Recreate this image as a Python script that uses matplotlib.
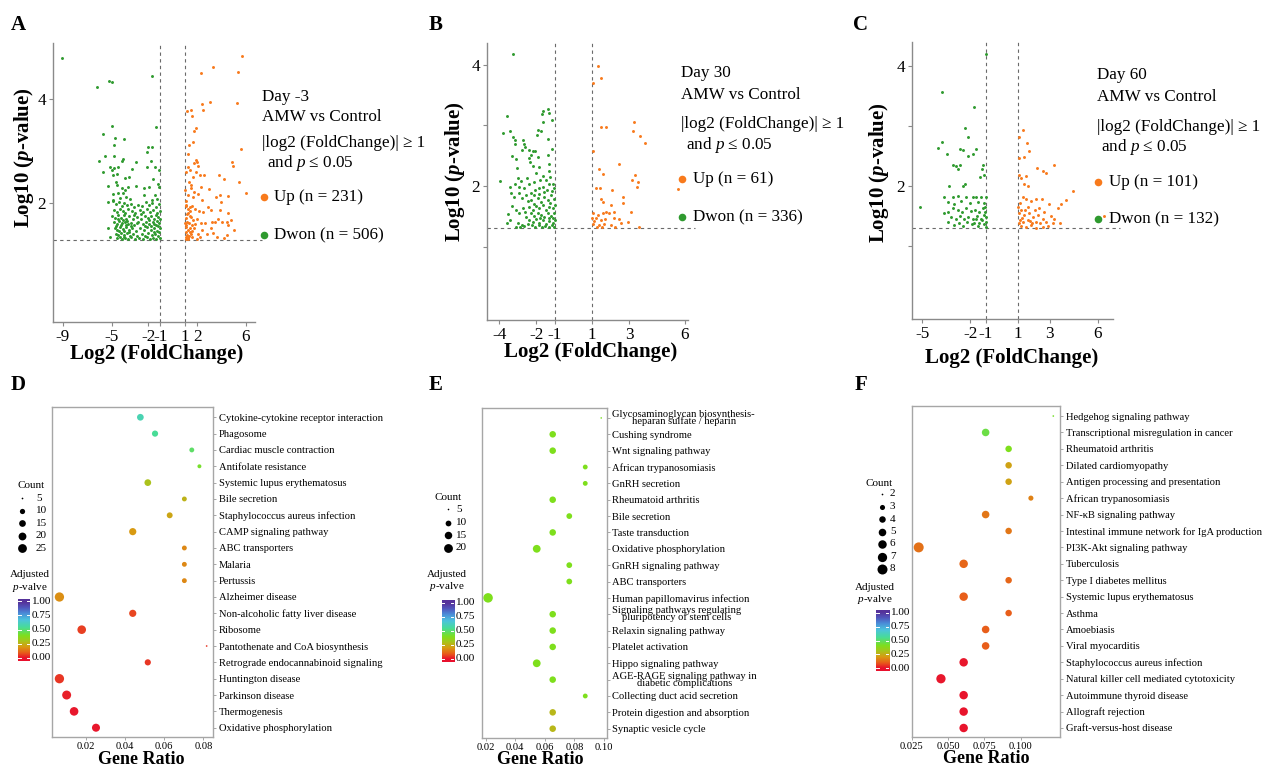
import numpy as np
import matplotlib
matplotlib.use("Agg")
import matplotlib.pyplot as plt
from matplotlib.colors import LinearSegmentedColormap

plt.rcParams['font.family'] = ['Liberation Serif', 'DejaVu Serif']
plt.rcParams['mathtext.fontset'] = 'custom'
plt.rcParams['mathtext.rm'] = 'Liberation Serif'
plt.rcParams['mathtext.it'] = 'Liberation Serif:italic:bold'
plt.rcParams['mathtext.bf'] = 'Liberation Serif:bold'
plt.rcParams['mathtext.sf'] = 'Liberation Serif:italic'

# ---------------------------------------------------------------- data
FC_CUT = 1
P_CUT = -np.log10(0.05)

# Panel A: Day -3  (log2FC, -log10 p)
a_down = [(-9.03,4.78),(-6.16,4.22),(-5.18,4.35),(-4.99,4.32),(-1.68,4.44),(-1.38,3.46),(-4.93,3.49),
 (-5.67,3.33),(-4.74,3.26),(-4.00,3.23),(-4.82,3.11),(-2.01,3.08),(-1.68,3.07),(-2.12,2.98),(-4.77,2.90),
 (-5.53,2.90),(-6.05,2.82),(-4.06,2.85),(-4.11,2.82),(-3.02,2.80),(-1.76,2.82),(-5.10,2.70),(-4.77,2.68),
 (-4.44,2.70),(-3.32,2.66),(-2.12,2.70),(-1.43,2.70),(-5.67,2.61),(-4.99,2.63),(-1.08,2.63),(-4.52,2.56),
 (-4.85,2.54),(-3.87,2.48),(-3.54,2.51),(-1.63,2.47),(-5.26,2.34),(-4.68,2.41),(-4.55,2.35),(-2.99,2.34),
 (-2.31,2.30),(-1.90,2.31),(-1.22,2.38),(-1.08,2.32),(-4.17,2.29),(-3.89,2.25),(-3.62,2.32),(-4.85,2.18),
 (-4.44,2.19),(-4.03,2.20),(-2.31,2.16),(-1.43,2.16),(-5.26,2.02),(-4.85,2.06),(-4.30,2.10),(-3.84,2.13),
 (-3.48,2.08),(-1.71,2.06),(-1.30,2.09),
 (-4.88,2.05),(-4.62,1.98),(-4.41,2.03),(-4.18,1.95),(-3.97,2.01),(-3.71,1.96),(-3.45,1.99),(-3.18,1.93),
 (-2.86,1.97),(-2.48,1.95),(-2.21,2.02),(-1.95,1.96),(-1.66,2.00),(-1.39,1.94),(-1.12,1.99),
 (-4.79,1.88),(-4.55,1.84),(-4.33,1.90),(-4.09,1.86),(-3.88,1.82),(-3.62,1.89),(-3.36,1.85),(-3.05,1.81),
 (-2.71,1.87),(-2.39,1.83),(-2.12,1.89),(-1.84,1.84),(-1.58,1.88),(-1.31,1.82),(-1.06,1.86),
 (-4.93,1.76),(-4.71,1.72),(-4.47,1.78),(-4.26,1.73),(-4.02,1.77),(-3.79,1.71),(-3.55,1.75),(-3.27,1.70),
 (-2.95,1.74),(-2.58,1.71),(-2.29,1.76),(-2.03,1.72),(-1.77,1.75),(-1.49,1.70),(-1.21,1.74),(-1.03,1.71),
 (-4.84,1.64),(-4.60,1.61),(-4.38,1.66),(-4.14,1.62),(-3.92,1.65),(-3.68,1.60),(-3.42,1.63),(-3.13,1.59),
 (-2.80,1.64),(-2.45,1.60),(-2.17,1.65),(-1.91,1.61),(-1.63,1.64),(-1.36,1.59),(-1.09,1.63),
 (-4.75,1.53),(-4.52,1.50),(-4.29,1.55),(-4.06,1.51),(-3.83,1.54),(-3.58,1.49),(-3.31,1.52),(-3.01,1.48),
 (-2.66,1.53),(-2.35,1.49),(-2.08,1.54),(-1.81,1.50),(-1.54,1.53),(-1.27,1.48),(-1.02,1.52),
 (-4.68,1.42),(-4.45,1.39),(-4.21,1.44),(-3.99,1.40),(-3.76,1.43),(-3.50,1.38),(-3.22,1.41),(-2.90,1.37),
 (-2.55,1.42),(-2.26,1.38),(-1.99,1.43),(-1.72,1.39),(-1.45,1.42),(-1.18,1.37),
 (-4.58,1.33),(-4.35,1.35),(-4.12,1.32),(-3.89,1.34),(-3.64,1.31),(-3.39,1.35),(-3.08,1.32),(-2.76,1.34),
 (-2.40,1.31),(-2.13,1.35),(-1.87,1.32),(-1.60,1.34),(-1.33,1.31),(-1.07,1.33),
 (-4.50,1.70),(-4.20,1.58),(-3.95,1.47),(-3.70,1.67),(-3.40,1.57),(-4.65,1.57),(-4.05,1.69),(-3.85,1.58),
 (-1.50,1.60),(-1.25,1.67),(-1.75,1.56),(-1.15,1.45),(-1.40,1.77),(-1.95,1.68),(-2.25,1.57),(-4.40,1.47),
 (-3.60,1.45),(-4.00,1.36),(-1.55,1.46),(-1.22,1.57),(-5.12,1.35),(-5.30,1.52),(-2.62,1.80),(-2.95,1.62),
 (-3.15,1.77)]
a_up = [(5.70,4.83),(3.29,4.62),(5.31,4.52),(2.28,4.49),(3.07,3.95),(5.29,3.93),(2.42,3.90),(2.47,3.79),
 (1.49,3.78),(1.16,3.77),(1.57,3.67),(1.90,3.44),(1.73,3.39),(1.63,3.18),(1.32,3.11),(5.59,3.04),(1.27,2.94),
 (1.87,2.84),(2.01,2.80),(1.76,2.78),(4.88,2.80),(4.93,2.71),(1.22,2.70),(1.41,2.64),(1.13,2.61),(2.04,2.71),
 (1.87,2.61),(2.20,2.54),(2.53,2.54),(3.78,2.55),(4.22,2.47),(1.65,2.51),(1.32,2.41),(1.54,2.35),(5.40,2.41),
 (2.31,2.32),(1.76,2.22),(1.49,2.29),(2.94,2.27),(6.02,2.19),(3.84,2.17),(4.55,2.15),(3.54,2.12),(1.27,2.16),
 (1.68,2.13),(2.09,2.18),(2.42,2.06),(3.95,2.02),(2.91,1.94),(3.13,1.87),(1.13,1.97),(1.41,1.94),(1.82,1.90),
 (2.15,1.86),(2.50,1.84),(3.84,1.87),(4.55,1.81),(3.73,1.71),(4.74,1.69),(3.18,1.65),(3.46,1.65),(4.06,1.65),
 (4.41,1.65),(4.49,1.58),(1.22,1.81),(1.54,1.74),(1.95,1.71),(2.28,1.63),(2.64,1.62),(3.16,1.52),(5.04,1.49),
 (1.13,1.55),(1.41,1.46),(1.76,1.52),(2.09,1.42),(2.42,1.49),(2.77,1.42),(3.27,1.43),(4.41,1.39),(3.59,1.36),
 (4.22,1.33),(1.05,1.36),(1.27,1.33),(1.60,1.36),(1.95,1.31),(2.23,1.35),
 (1.05,1.45),(1.15,1.40),(1.25,1.50),(1.10,1.58),(1.20,1.65),(1.30,1.38),(1.40,1.52),(1.08,1.72),(1.18,1.80),
 (1.35,1.62),(1.48,1.42),(1.55,1.58),(1.28,1.90),(1.05,1.95),(1.62,1.47),(1.12,2.05),(1.22,1.32),(1.38,1.75),
 (1.70,1.68),(1.45,1.85),(1.02,1.62),(1.03,2.25),(1.08,1.32),(1.60,1.95),(1.85,1.60)]

# Panel B: Day 30
b_down = [(-3.26,4.18),(-3.60,3.16),(-1.63,3.24),(-1.40,3.27),(-1.34,3.21),(-1.72,3.19),(-1.14,3.09),
 (-1.67,3.06),(-3.78,2.87),(-3.42,2.91),(-3.28,2.81),(-3.14,2.76),(-3.15,2.69),(-2.74,2.76),(-2.65,2.69),
 (-2.60,2.65),(-2.78,2.59),(-1.93,2.92),(-1.75,2.91),(-1.99,2.84),(-1.36,2.77),(-1.16,2.61),(-3.32,2.49),
 (-3.10,2.44),(-3.06,2.29),(-2.38,2.59),(-2.20,2.57),(-2.06,2.58),(-2.29,2.51),(-1.93,2.48),(-2.42,2.46),
 (-2.35,2.40),(-2.17,2.33),(-1.88,2.31),(-2.02,2.22),(-1.40,2.51),(-1.30,2.36),(-1.34,2.24),(-1.27,2.15),
 (-1.48,2.10),(-1.66,2.16),(-1.81,2.10),(-3.96,2.09),(-3.01,2.13),(-2.83,2.09),(-2.53,2.14),(-3.14,2.04),
 (-3.42,1.99),(-2.92,1.99),(-2.65,1.96),(-2.38,2.04),(-2.11,2.07),(-3.37,1.88),(-3.19,1.82),(-2.96,1.89),
 (-2.78,1.80),(-2.56,1.85),(-2.29,1.89),(-2.06,1.93),(-1.84,1.96),(-1.63,1.99),(-1.30,2.03),(-1.12,2.04),
 (-1.04,1.96),(-3.55,1.54),(-3.41,1.44),(-3.60,1.39),(-3.10,1.60),(-2.92,1.55),(-2.70,1.63),(-3.32,1.67),
 (-2.56,1.49),(-3.01,1.39),(-2.78,1.36),
 (-2.29,1.77),(-2.11,1.71),(-1.93,1.80),(-1.75,1.74),(-1.57,1.82),(-1.40,1.77),(-1.21,1.85),(-1.07,1.78),
 (-2.38,1.66),(-2.20,1.60),(-2.02,1.67),(-1.84,1.63),(-1.66,1.69),(-1.48,1.60),(-1.30,1.66),(-1.12,1.63),
 (-1.02,1.69),(-2.29,1.55),(-2.11,1.50),(-1.93,1.56),(-1.75,1.52),(-1.57,1.49),(-1.40,1.55),(-1.21,1.50),
 (-1.05,1.55),(-2.38,1.44),(-2.20,1.41),(-2.02,1.45),(-1.84,1.39),(-1.66,1.44),(-1.48,1.38),(-1.30,1.43),
 (-1.12,1.39),(-1.02,1.44),(-2.24,1.35),(-2.06,1.33),(-1.88,1.35),(-1.70,1.33),(-1.52,1.34),(-1.34,1.33),
 (-1.16,1.35),(-1.04,1.33),(-3.10,1.33),(-2.90,1.33),(-2.65,1.34),(-2.48,1.38),(-1.60,1.90),(-1.45,1.93),
 (-1.18,1.92),(-1.88,1.87),(-2.45,1.75),(-2.60,1.58),(-1.25,1.72),(-1.80,1.48),(-1.35,1.47),(-1.10,1.48),
 (-2.15,1.85)]
b_up = [(1.30,3.98),(1.46,3.78),(1.03,3.70),(1.50,2.97),(1.75,2.97),(3.24,3.05),(3.18,2.90),(3.60,2.83),
 (3.87,2.71),(1.03,2.58),(2.43,2.36),(1.35,2.28),(1.57,2.20),(3.31,2.18),(3.15,2.10),(3.45,2.07),(3.40,1.99),
 (5.64,1.95),(1.21,1.96),(1.44,1.97),(2.07,1.93),(2.68,1.82),(2.68,1.72),(1.48,1.78),(1.57,1.74),(2.02,1.69),
 (1.06,1.56),(1.30,1.52),(1.60,1.55),(1.75,1.58),(1.89,1.55),(2.18,1.58),(3.09,1.58),(1.21,1.47),(1.48,1.44),
 (1.71,1.45),(2.20,1.47),(2.43,1.45),(2.56,1.39),(2.91,1.41),(1.06,1.38),(1.35,1.35),(1.53,1.33),(2.03,1.35),
 (2.25,1.33),(3.51,1.32),(1.10,1.42),(1.25,1.32),(1.65,1.38),(1.02,1.48)]

# Panel C: Day 60
c_down = [(-1.01,4.19),(-3.79,3.57),(-1.74,3.31),(-2.30,2.96),(-2.16,2.82),(-3.79,2.73),(-3.99,2.63),
 (-3.45,2.54),(-2.63,2.62),(-2.47,2.60),(-1.63,2.62),(-1.82,2.54),(-2.11,2.50),(-3.10,2.35),(-2.89,2.33),
 (-2.64,2.35),(-2.78,2.29),(-1.21,2.35),(-1.28,2.28),(-1.38,2.15),(-1.11,2.18),(-2.32,2.03),(-2.43,2.00),
 (-3.30,2.00),(-5.12,1.66),(-3.62,1.82),(-3.10,1.81),(-2.78,1.83),(-2.26,1.82),(-1.84,1.81),(-1.63,1.82),
 (-1.32,1.82),(-1.01,1.81),(-3.41,1.74),(-2.99,1.71),(-2.57,1.76),(-1.99,1.72),(-1.53,1.74),(-1.15,1.72),
 (-3.66,1.55),(-3.41,1.57),(-3.10,1.63),(-2.78,1.60),(-2.53,1.57),(-2.26,1.63),(-1.95,1.59),(-1.70,1.61),
 (-1.42,1.57),(-1.21,1.63),(-1.07,1.57),(-3.20,1.49),(-2.89,1.46),(-2.61,1.50),(-2.36,1.45),(-2.11,1.49),
 (-1.84,1.46),(-1.57,1.50),(-1.32,1.46),(-1.01,1.48),(-3.41,1.41),(-2.68,1.39),(-2.20,1.41),(-1.74,1.38),
 (-1.42,1.39),(-1.15,1.37),(-1.02,1.41),(-2.99,1.35),(-2.47,1.34),(-1.53,1.34),(-1.01,1.32),(-1.10,1.52),
 (-1.25,1.43),(-1.05,1.65),(-1.60,1.45),(-1.90,1.37)]
c_up = [(1.29,2.94),(1.08,2.81),(1.57,2.71),(1.71,2.59),(1.08,2.46),(1.36,2.49),(2.19,2.30),(2.55,2.25),
 (2.76,2.21),(3.24,2.35),(1.08,2.18),(1.19,2.13),(1.50,2.16),(1.40,2.03),(1.65,2.00),(4.47,1.91),(1.29,1.82),
 (1.50,1.78),(1.82,1.76),(2.13,1.78),(2.49,1.79),(4.01,1.77),(3.70,1.71),(2.96,1.70),(3.49,1.63),(1.02,1.66),
 (1.19,1.60),(1.61,1.66),(2.07,1.60),(2.34,1.63),(2.65,1.57),(1.08,1.55),(1.40,1.52),(1.71,1.55),(1.92,1.49),
 (2.23,1.52),(2.55,1.46),(3.07,1.50),(3.28,1.46),(1.10,1.44),(1.34,1.41),(1.61,1.44),(1.86,1.39),(2.13,1.41),
 (2.40,1.38),(2.76,1.41),(3.17,1.38),(3.66,1.38),(1.19,1.34),(1.50,1.32),(1.82,1.35),(2.13,1.31),(2.55,1.32),
 (2.86,1.34),(6.41,1.50),(1.05,1.38),(1.25,1.47),(1.45,1.60),(1.15,1.72),(1.75,1.42)]

a_xticks = [-9, -5, -2, -1, 1, 2, 6]
b_xticks = [-4, -2, -1, 1, 3, 6]
c_xticks = [-5, -2, -1, 1, 3, 6]
volcano_yticks = [2, 4]
a_info = ["Day -3", "AMW vs Control", "Up (n = 231)", "Dwon (n = 506)"]
b_info = ["Day 30", "AMW vs Control", "Up (n = 61)", "Dwon (n = 336)"]
c_info = ["Day 60", "AMW vs Control", "Up (n = 101)", "Dwon (n = 132)"]

# Panel D: Day -3 KEGG
d_cats = ["Cytokine-cytokine receptor interaction", "Phagosome", "Cardiac muscle contraction",
          "Antifolate resistance", "Systemic lupus erythematosus", "Bile secretion",
          "Staphylococcus aureus infection", "CAMP signaling pathway", "ABC transporters", "Malaria",
          "Pertussis", "Alzheimer disease", "Non-alcoholic fatty liver disease", "Ribosome",
          "Pantothenate and CoA biosynthesis", "Retrograde endocannabinoid signaling",
          "Huntington disease", "Parkinson disease", "Thermogenesis", "Oxidative phosphorylation"]
d_ratio = [0.0478, 0.0553, 0.0741, 0.0780, 0.0516, 0.0703, 0.0628, 0.0439, 0.0703, 0.0703,
           0.0703, 0.0064, 0.0439, 0.0178, 0.0817, 0.0516, 0.0064, 0.0101, 0.0139, 0.0251]
d_count = [15, 13, 9, 7, 15, 9, 12, 17, 9, 9, 9, 28, 17, 24, 5, 13, 28, 26, 24, 21]
d_padj = [0.60, 0.55, 0.49, 0.42, 0.30, 0.26, 0.23, 0.20, 0.17, 0.17,
          0.17, 0.18, 0.07, 0.06, 0.05, 0.05, 0.05, 0.02, 0.01, 0.01]
d_count_breaks = [5, 10, 15, 20, 25]

# Panel E: Day 30 KEGG
e_cats = ["Glycosaminoglycan biosynthesis-\nheparan sulfate / heparin", "Cushing syndrome",
          "Wnt signaling pathway", "African trypanosomiasis", "GnRH secretion", "Rheumatoid arthritis",
          "Bile secretion", "Taste transduction", "Oxidative phosphorylation", "GnRH signaling pathway",
          "ABC transporters", "Human papillomavirus infection",
          "Signaling pathways regulating\npluripotency of stem cells", "Relaxin signaling pathway",
          "Platelet activation", "Hippo signaling pathway",
          "AGE-RAGE signaling pathway in\ndiabetic complications", "Collecting duct acid secretion",
          "Protein digestion and absorption", "Synaptic vesicle cycle"]
e_ratio = [0.0981, 0.0653, 0.0653, 0.0873, 0.0873, 0.0653, 0.0765, 0.0653, 0.0545, 0.0765,
           0.0765, 0.0216, 0.0653, 0.0653, 0.0653, 0.0545, 0.0653, 0.0873, 0.0653, 0.0653]
e_count = [5, 12, 12, 8, 8, 12, 10, 12, 16, 10, 10, 23, 12, 12, 12, 16, 12, 8, 12, 12]
e_padj = [0.41, 0.40, 0.40, 0.40, 0.40, 0.40, 0.40, 0.40, 0.40, 0.40,
          0.40, 0.40, 0.40, 0.40, 0.40, 0.40, 0.40, 0.40, 0.27, 0.27]
e_count_breaks = [5, 10, 15, 20]

# Panel F: Day 60 KEGG
f_cats = ["Hedgehog signaling pathway", "Transcriptional misregulation in cancer", "Rheumatoid arthritis",
          "Dilated cardiomyopathy", "Antigen processing and presentation", "African trypanosomiasis",
          "NF-\u03baB signaling pathway", "Intestinal immune network for IgA production",
          "PI3K-Akt signaling pathway", "Tuberculosis", "Type I diabetes mellitus",
          "Systemic lupus erythematosus", "Asthma", "Amoebiasis", "Viral myocarditis",
          "Staphylococcus aureus infection", "Natural killer cell mediated cytotoxicity",
          "Autoimmune thyroid disease", "Allograft rejection", "Graft-versus-host disease"]
f_ratio = [0.1223, 0.0758, 0.0916, 0.0916, 0.0916, 0.1069, 0.0758, 0.0916, 0.0298, 0.0607,
           0.0916, 0.0607, 0.0916, 0.0758, 0.0758, 0.0607, 0.0451, 0.0607, 0.0607, 0.0607]
f_count = [2, 5, 4, 4, 4, 3, 5, 4, 8, 6, 4, 6, 4, 5, 5, 6, 7, 6, 6, 6]
f_padj = [0.42, 0.45, 0.40, 0.22, 0.22, 0.16, 0.14, 0.14, 0.13, 0.11,
          0.11, 0.10, 0.10, 0.10, 0.10, 0.01, 0.01, 0.004, 0.004, 0.004]
f_count_breaks = [2, 3, 4, 5, 6, 7, 8]

cbar_ticks = [0.0, 0.25, 0.5, 0.75, 1.0]

# ---------------------------------------------------------------- style
W, H = 1266, 767
GREEN = '#2f9a2f'
ORANGE = '#f87a1c'
GREY = '#8a8a8a'
CAT_FS = 7.6
LEG_FS = 8
CMAP = LinearSegmentedColormap.from_list('padj', [
    (0.00, '#e8112d'), (0.10, '#e8601a'), (0.20, '#d89a12'), (0.30, '#aac31c'),
    (0.40, '#7edf1c'), (0.55, '#48dc98'), (0.68, '#4cc4dc'), (0.80, '#4a8cd8'),
    (0.90, '#5056bc'), (1.00, '#56329a')])

fig = plt.figure(figsize=(W / 100, H / 100), dpi=100)


def px_rect(l, t, r, b):
    return [l / W, 1 - b / H, (r - l) / W, (b - t) / H]


ov = fig.add_axes([0, 0, 1, 1], zorder=10)
ov.set_xlim(0, W)
ov.set_ylim(H, 0)
ov.axis('off')


def volcano(rect, xlim, ylim, xticks, down, up, minor):
    ax = fig.add_axes(px_rect(*rect))
    d = np.array(down)
    u = np.array(up)
    ax.scatter(d[:, 0], d[:, 1], s=4.5, color=GREEN, lw=0, zorder=3)
    ax.scatter(u[:, 0], u[:, 1], s=4.5, color=ORANGE, lw=0, zorder=3)
    for xv in (-FC_CUT, FC_CUT):
        ax.axvline(xv, color='#6a6a6a', lw=0.8, ls=(0, (3, 3)), zorder=2)
    ax.axhline(P_CUT, xmin=0, xmax=1.035, color='#6a6a6a', lw=0.8, ls=(0, (3, 3)),
               zorder=2, clip_on=False)
    ax.set_xlim(*xlim)
    ax.set_ylim(*ylim)
    ax.set_xticks(xticks)
    ax.set_xticklabels([str(v) for v in xticks])
    ax.set_yticks(volcano_yticks)
    ax.set_yticklabels([str(v) for v in volcano_yticks])
    if minor:
        ax.set_yticks([1, 3], minor=True)
    for s in ('top', 'right'):
        ax.spines[s].set_visible(False)
    for s in ('left', 'bottom'):
        ax.spines[s].set_color(GREY)
        ax.spines[s].set_linewidth(1.0)
    ax.tick_params(which='both', length=3, width=0.8, color=GREY, labelsize=12.3, pad=2)
    ax.patch.set_alpha(0)
    return ax


def volcano_text(x0, ys, info, dot_x, text_x):
    ov.text(x0, ys[0], info[0], fontsize=12.3, va='center', ha='left')
    ov.text(x0, ys[1], info[1], fontsize=12.3, va='center', ha='left')
    ov.text(x0, ys[2], "|log2 (FoldChange)| \u2265 1", fontsize=12.3, va='center', ha='left')
    ov.text(x0 + 4.5, ys[3], r"and $\mathsf{p}$ " + "\u2264 0.05",
            fontsize=12.3, va='center', ha='left')
    ov.scatter([dot_x], [ys[4]], s=30, color=ORANGE, lw=0)
    ov.scatter([dot_x], [ys[5]], s=30, color=GREEN, lw=0)
    ov.text(text_x, ys[4], info[2], fontsize=12.3, va='center', ha='left')
    ov.text(text_x, ys[5], info[3], fontsize=12.3, va='center', ha='left')


def diam(c, cmin, cmax, d0, d1):
    c = np.asarray(c, dtype=float)
    return d0 + (d1 - d0) * np.sqrt(np.clip((c - cmin) / (cmax - cmin), 0, None))


def dotplot(rect, cats, ratio, count, padj, xlim, ylim, xticks, xlabels, sz):
    ax = fig.add_axes(px_rect(*rect))
    n = len(cats)
    ypos = np.arange(n)[::-1]
    dd = diam(count, *sz)
    ax.scatter(ratio, ypos, s=(dd * 0.72) ** 2, c=padj, cmap=CMAP, vmin=0, vmax=1, lw=0, zorder=3)
    ax.set_xlim(*xlim)
    ax.set_ylim(*ylim)
    ax.set_yticks(ypos)
    ax.set_yticklabels(cats, fontsize=CAT_FS, linespacing=0.72, multialignment='center')
    ax.yaxis.tick_right()
    ax.set_xticks(xticks)
    ax.set_xticklabels(xlabels, fontsize=CAT_FS)
    for s in ax.spines.values():
        s.set_color('#a6a6a6')
        s.set_linewidth(1.0)
    ax.tick_params(axis='both', length=2.5, width=0.7, color='#a6a6a6', pad=1.5)
    return ax


def size_legend(title_xy, dot_x, lab_x, breaks, ys, sz):
    ov.text(title_xy[0], title_xy[1], 'Count', fontsize=LEG_FS, ha='center', va='center')
    dd = diam(breaks, *sz)
    for b, y, d in zip(breaks, ys, dd):
        ov.scatter([dot_x], [y], s=(d * 0.72) ** 2, color='black', lw=0)
        ov.text(lab_x, y, str(b), fontsize=LEG_FS, ha='left', va='center')


def color_legend(title_xy, l, t, r, b, lab_x):
    ov.text(title_xy[0], title_xy[1], 'Adjusted', fontsize=LEG_FS, ha='center', va='center')
    ov.text(title_xy[0], title_xy[1] + 12.5, r'$\mathsf{p}$-valve', fontsize=LEG_FS,
            ha='center', va='center')
    cax = fig.add_axes(px_rect(l, t, r, b))
    lo, hi = -0.05, 1.05
    grad = np.linspace(lo, hi, 256)[:, None]
    cax.imshow(grad, aspect='auto', cmap=CMAP, vmin=0, vmax=1, origin='lower',
               extent=[0, 1, lo, hi])
    for v in cbar_ticks:
        cax.plot([0, 0.22], [v, v], color='white', lw=0.7)
        cax.plot([0.78, 1], [v, v], color='white', lw=0.7)
    cax.set_xlim(0, 1)
    cax.set_ylim(lo, hi)
    cax.axis('off')
    for v in cbar_ticks:
        y = b - (v - lo) / (hi - lo) * (b - t)
        ov.text(lab_x, y, f"{v:.2f}", fontsize=LEG_FS, ha='left', va='center')


# ---------------------------------------------------------------- volcano row
volcano((53, 43, 255, 322), (-9.8, 6.74), (-0.27, 5.07), a_xticks, a_down, a_up, False)
volcano((486.7, 43, 687.7, 320), (-4.68, 6.15), (-0.21, 4.36), b_xticks, b_down, b_up, True)
volcano((911.7, 41.7, 1113, 319), (-5.66, 6.96), (-0.21, 4.4), c_xticks, c_down, c_up, True)

volcano_text(262.3, [96.7, 117.3, 142.7, 163.3, 197.3, 235.3], a_info, 264, 274.3)
volcano_text(681, [72.7, 95, 124, 145, 179, 217.3], b_info, 682.3, 693.3)
volcano_text(1096.7, [75, 96.7, 126.7, 147.3, 181.7, 219.3], c_info, 1097.7, 1109)

for (x, y) in [(156.5, 354), (591, 352), (1011.5, 358.5)]:
    ov.text(x, y, 'Log2 (FoldChange)', fontsize=15, fontweight='bold', ha='center', va='center')
for (x, y) in [(24, 158), (455, 172), (879, 173)]:
    ov.text(x, y, r'Log10 ($p$-value)', fontsize=15, fontweight='bold', ha='center', va='center',
            rotation=90)

# ---------------------------------------------------------------- dot plot row
d_sz = (5, 28, 1.7, 9.3)
e_sz = (5, 23, 1.6, 9.5)
f_sz = (2, 8, 1.7, 10.0)
dotplot((52.3, 407.3, 213.3, 736.7), d_cats, d_ratio, d_count, d_padj, (0.00276, 0.0851),
        (-0.55, 19.61), [0.02, 0.04, 0.06, 0.08], ['0.02', '0.04', '0.06', '0.08'], d_sz)
dotplot((482, 408.3, 606.7, 737.7), e_cats, e_ratio, e_count, e_padj, (0.0175, 0.1018),
        (-0.55, 19.59), [0.02, 0.04, 0.06, 0.08, 0.10], ['0.02', '0.04', '0.06', '0.08', '0.10'], e_sz)
dotplot((911.7, 405.7, 1060, 736.7), f_cats, f_ratio, f_count, f_padj, (0.025, 0.1269),
        (-0.53, 19.63), [0.025, 0.05, 0.075, 0.1], ['0.025', '0.050', '0.075', '0.100'], f_sz)

size_legend((30.7, 486), 22, 36, d_count_breaks, [498.3, 510.7, 523.3, 535.7, 548.3], d_sz)
color_legend((30, 574.5), 18, 598.5, 29.5, 660.5, 31.7)
size_legend((448, 497.3), 448, 456, e_count_breaks, [509.3, 522.7, 535, 547.7], e_sz)
color_legend((446.7, 574.3), 441.7, 600, 454, 661.7, 456)
size_legend((879.3, 483.3), 881.5, 890, f_count_breaks,
            [494, 506.5, 519, 531.5, 544, 556.5, 568.5], f_sz)
color_legend((875, 587.3), 875.7, 610, 889.3, 671, 891)

for (x, y) in [(140.8, 764), (540, 764), (985.8, 763)]:
    ov.text(x, y, 'Gene Ratio', fontsize=13, fontweight='bold', ha='center', va='baseline')

# ---------------------------------------------------------------- panel letters
for (lab, x, y) in [('A', 18, 25), ('B', 436, 25), ('C', 861, 25),
                    ('D', 18, 385), ('E', 436, 385), ('F', 861, 385)]:
    ov.text(x, y, lab, fontsize=15, fontweight='bold', ha='center', va='center')

fig.savefig('out.png', dpi=100)
